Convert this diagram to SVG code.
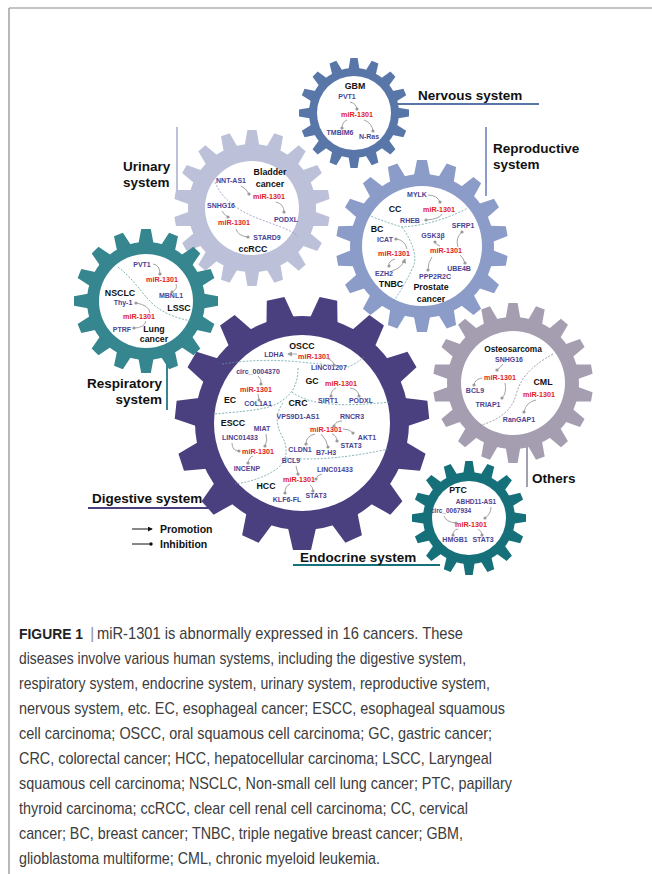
<svg xmlns="http://www.w3.org/2000/svg" width="652" height="874" viewBox="0 0 652 874">
<style>
text{font-family:"Liberation Sans",Arial,sans-serif}
.g{font-size:7px;font-weight:bold;fill:#4a4393;text-anchor:middle}
.m{font-size:7.2px;font-weight:bold;fill:#e02228;text-anchor:middle}
.l{font-size:8.8px;font-weight:bold;fill:#111;text-anchor:middle}
.s{font-size:13.5px;font-weight:bold;fill:#111}
.c{fill:none;stroke:#9a9a9a;stroke-width:0.9;marker-end:url(#dot)}
.ca{fill:none;stroke:#9a9a9a;stroke-width:0.9;marker-end:url(#arr)}
.d{fill:none;stroke:#5f9ea0;stroke-width:0.8;stroke-dasharray:2 1.5}
.cap{font-size:17px;fill:#3c3c3c}
</style>
<defs>
<marker id="dot" viewBox="0 0 4 4" refX="2" refY="2" markerWidth="4" markerHeight="4" markerUnits="userSpaceOnUse"><circle cx="2" cy="2" r="1.6" fill="#9a9a9a"/></marker>
<marker id="arr" viewBox="0 0 6 6" refX="5" refY="3" markerWidth="5" markerHeight="5" orient="auto" markerUnits="userSpaceOnUse"><path d="M0,0 L6,3 L0,6 Z" fill="#9a9a9a"/></marker>
<marker id="arrK" viewBox="0 0 6 6" refX="5" refY="3" markerWidth="5" markerHeight="5" orient="auto" markerUnits="userSpaceOnUse"><path d="M0,0 L6,3 L0,6 Z" fill="#111"/></marker>
<marker id="dotK" viewBox="0 0 4 4" refX="2" refY="2" markerWidth="4" markerHeight="4" markerUnits="userSpaceOnUse"><circle cx="2" cy="2" r="1.7" fill="#111"/></marker>
<path id="tG" d="M-5.6,-43 L-3.6,-55 L3.6,-55 L5.6,-43Z"/>
<path id="tU" d="M-7.4,-62 L-4.6,-78 L4.6,-78 L7.4,-62Z"/>
<path id="tR" d="M-8.2,-70 L-5,-86 L5,-86 L8.2,-70Z"/>
<path id="tO" d="M-7.4,-64 L-4.6,-80 L4.6,-80 L7.4,-64Z"/>
<path id="tL" d="M-7.6,-57 L-4.8,-72 L4.8,-72 L7.6,-57Z"/>
<path id="tD" d="M-14,-105 L-9,-127 L9,-127 L14,-105Z"/>
<path id="tP" d="M-5.8,-44 L-3.7,-57 L3.7,-57 L5.8,-44Z"/>
</defs>

<rect width="652" height="874" fill="#fff"/>
<g id="frame" fill="none">
<line x1="9" y1="8" x2="652" y2="8" stroke="#b0b0b0" stroke-width="1.6"/>
<line x1="9" y1="8" x2="9" y2="874" stroke="#8a8a8a" stroke-width="1.2"/>
</g>

<g id="system-lines" stroke-width="2" fill="none">
<line x1="395" y1="104" x2="539" y2="104" stroke="#5877a8"/>
<line x1="177" y1="127" x2="177" y2="197" stroke="#bcc1d9"/>
<line x1="486" y1="127" x2="486" y2="196" stroke="#8c9cc9"/>
<line x1="167" y1="350" x2="167" y2="410" stroke="#35868f"/>
<line x1="88" y1="508" x2="215" y2="508" stroke="#4a3f7f"/>
<line x1="293" y1="565" x2="440" y2="565" stroke="#16707a"/>
<line x1="527" y1="445" x2="527" y2="487" stroke="#a59db0"/>
</g>

<g id="gear-urinary">
<g transform="translate(252,208)" fill="#bcc1d9">
<circle r="64"/>
<use href="#tU"/><use href="#tU" transform="rotate(20)"/><use href="#tU" transform="rotate(40)"/><use href="#tU" transform="rotate(60)"/><use href="#tU" transform="rotate(80)"/><use href="#tU" transform="rotate(100)"/><use href="#tU" transform="rotate(120)"/><use href="#tU" transform="rotate(140)"/><use href="#tU" transform="rotate(160)"/><use href="#tU" transform="rotate(180)"/><use href="#tU" transform="rotate(200)"/><use href="#tU" transform="rotate(220)"/><use href="#tU" transform="rotate(240)"/><use href="#tU" transform="rotate(260)"/><use href="#tU" transform="rotate(280)"/><use href="#tU" transform="rotate(300)"/><use href="#tU" transform="rotate(320)"/><use href="#tU" transform="rotate(340)"/>
<circle r="47" fill="#fff"/>
</g>
<path class="d" style="stroke:#8f95c5" d="M215,182 C222,200 240,212 262,220 S290,230 298,236"/>
<text class="l" x="270" y="175">Bladder</text>
<text class="l" x="270" y="187">cancer</text>
<text class="g" x="231" y="183">NNT-AS1</text>
<text class="m" x="269" y="199">miR-1301</text>
<text class="g" x="221" y="208">SNHG16</text>
<text class="g" x="286" y="222">PODXL</text>
<text class="m" x="234" y="225">miR-1301</text>
<text class="g" x="267" y="240">STARD9</text>
<text class="l" x="253" y="252">ccRCC</text>
</g>

<g id="gear-gbm">
<g transform="translate(354,113)" fill="#5877a8">
<circle r="45"/>
<use href="#tG"/><use href="#tG" transform="rotate(22.5)"/><use href="#tG" transform="rotate(45)"/><use href="#tG" transform="rotate(67.5)"/><use href="#tG" transform="rotate(90)"/><use href="#tG" transform="rotate(112.5)"/><use href="#tG" transform="rotate(135)"/><use href="#tG" transform="rotate(157.5)"/><use href="#tG" transform="rotate(180)"/><use href="#tG" transform="rotate(202.5)"/><use href="#tG" transform="rotate(225)"/><use href="#tG" transform="rotate(247.5)"/><use href="#tG" transform="rotate(270)"/><use href="#tG" transform="rotate(292.5)"/><use href="#tG" transform="rotate(315)"/><use href="#tG" transform="rotate(337.5)"/>
<circle r="37" fill="#fff"/>
</g>
<text class="l" x="355" y="89">GBM</text>
<text class="g" x="347" y="99">PVT1</text>
<text class="m" x="357" y="117">miR-1301</text>
<text class="g" x="340" y="135">TMBIM6</text>
<text class="g" x="369" y="139">N-Ras</text>
</g>

<g id="gear-reproductive">
<g transform="translate(422,246)" fill="#8c9cc9">
<circle r="72"/>
<use href="#tR"/><use href="#tR" transform="rotate(20)"/><use href="#tR" transform="rotate(40)"/><use href="#tR" transform="rotate(60)"/><use href="#tR" transform="rotate(80)"/><use href="#tR" transform="rotate(100)"/><use href="#tR" transform="rotate(120)"/><use href="#tR" transform="rotate(140)"/><use href="#tR" transform="rotate(160)"/><use href="#tR" transform="rotate(180)"/><use href="#tR" transform="rotate(200)"/><use href="#tR" transform="rotate(220)"/><use href="#tR" transform="rotate(240)"/><use href="#tR" transform="rotate(260)"/><use href="#tR" transform="rotate(280)"/><use href="#tR" transform="rotate(300)"/><use href="#tR" transform="rotate(320)"/><use href="#tR" transform="rotate(340)"/>
<circle r="60" fill="#fff"/>
</g>
<path class="d" d="M368,215 Q385,222 402,227 Q435,225 468,208"/>
<path class="d" d="M402,227 Q418,250 414,265 Q405,285 393,302"/>
<text class="g" x="417" y="197">MYLK</text>
<text class="l" x="395" y="212">CC</text>
<text class="m" x="439" y="212">miR-1301</text>
<text class="g" x="410" y="223">RHEB</text>
<text class="l" x="377" y="232">BC</text>
<text class="g" x="463" y="228">SFRP1</text>
<text class="g" x="385" y="242">ICAT</text>
<text class="g" x="433" y="238">GSK3β</text>
<text class="m" x="394" y="256">miR-1301</text>
<text class="m" x="446" y="253">miR-1301</text>
<text class="g" x="384" y="276">EZH2</text>
<text class="g" x="459" y="271">UBE4B</text>
<text class="g" x="435" y="279">PPP2R2C</text>
<text class="l" x="391" y="287">TNBC</text>
<text class="l" x="431" y="290">Prostate</text>
<text class="l" x="431" y="302">cancer</text>
</g>

<g id="gear-others">
<g transform="translate(513,383)" fill="#a59db0">
<circle r="66"/>
<use href="#tO"/><use href="#tO" transform="rotate(20)"/><use href="#tO" transform="rotate(40)"/><use href="#tO" transform="rotate(60)"/><use href="#tO" transform="rotate(80)"/><use href="#tO" transform="rotate(100)"/><use href="#tO" transform="rotate(120)"/><use href="#tO" transform="rotate(140)"/><use href="#tO" transform="rotate(160)"/><use href="#tO" transform="rotate(180)"/><use href="#tO" transform="rotate(200)"/><use href="#tO" transform="rotate(220)"/><use href="#tO" transform="rotate(240)"/><use href="#tO" transform="rotate(260)"/><use href="#tO" transform="rotate(280)"/><use href="#tO" transform="rotate(300)"/><use href="#tO" transform="rotate(320)"/><use href="#tO" transform="rotate(340)"/>
<circle r="52" fill="#fff"/>
</g>
<path class="d" style="stroke:#8a8aa0" d="M553,354 C528,368 520,380 516,395 S500,420 478,426"/>
<text class="l" x="513" y="352" style="font-size:8.3px">Osteosarcoma</text>
<text class="g" x="509" y="362">SNHG16</text>
<text class="m" x="500" y="380">miR-1301</text>
<text class="l" x="543" y="385">CML</text>
<text class="g" x="475" y="393">BCL9</text>
<text class="m" x="539" y="397">miR-1301</text>
<text class="g" x="488" y="407">TRIAP1</text>
<text class="g" x="519" y="422">RanGAP1</text>
</g>

<g id="gear-respiratory">
<g transform="translate(146,301)" fill="#35868f">
<circle r="59"/>
<use href="#tL"/><use href="#tL" transform="rotate(22.5)"/><use href="#tL" transform="rotate(45)"/><use href="#tL" transform="rotate(67.5)"/><use href="#tL" transform="rotate(90)"/><use href="#tL" transform="rotate(112.5)"/><use href="#tL" transform="rotate(135)"/><use href="#tL" transform="rotate(157.5)"/><use href="#tL" transform="rotate(180)"/><use href="#tL" transform="rotate(202.5)"/><use href="#tL" transform="rotate(225)"/><use href="#tL" transform="rotate(247.5)"/><use href="#tL" transform="rotate(270)"/><use href="#tL" transform="rotate(292.5)"/><use href="#tL" transform="rotate(315)"/><use href="#tL" transform="rotate(337.5)"/>
<circle r="47" fill="#fff"/>
</g>
<path class="d" d="M118,267 C132,278 140,290 147,298 S165,316 191,321"/>
<text class="g" x="142" y="267">PVT1</text>
<text class="m" x="162" y="282">miR-1301</text>
<text class="l" x="120" y="296">NSCLC</text>
<text class="g" x="171" y="298">MBNL1</text>
<text class="g" x="123" y="305">Thy-1</text>
<text class="l" x="179" y="311">LSSC</text>
<text class="m" x="139" y="319">miR-1301</text>
<text class="g" x="122" y="332">PTRF</text>
<text class="l" x="154" y="332">Lung</text>
<text class="l" x="154" y="342">cancer</text>
</g>

<g id="gear-digestive">
<g transform="translate(302,423)" fill="#4a3f7f">
<circle r="107"/>
<use href="#tD" transform="rotate(12)"/><use href="#tD" transform="rotate(36)"/><use href="#tD" transform="rotate(60)"/><use href="#tD" transform="rotate(84)"/><use href="#tD" transform="rotate(108)"/><use href="#tD" transform="rotate(132)"/><use href="#tD" transform="rotate(156)"/><use href="#tD" transform="rotate(180)"/><use href="#tD" transform="rotate(204)"/><use href="#tD" transform="rotate(228)"/><use href="#tD" transform="rotate(252)"/><use href="#tD" transform="rotate(276)"/><use href="#tD" transform="rotate(300)"/><use href="#tD" transform="rotate(324)"/><use href="#tD" transform="rotate(348)"/>
<circle r="88" fill="#fff"/>
</g>
<path class="d" d="M222,364 Q260,358 300,362 T348,367 Q356,364 364,357"/>
<path class="d" d="M298,368 C298,382 294,392 283,400 S262,410 214,414"/>
<path class="d" d="M292,392 Q305,402 330,404 T390,402"/>
<path class="d" d="M283,403 Q272,418 282,436 Q292,455 278,468 Q262,480 235,484"/>
<path class="d" d="M286,458 Q330,462 388,449"/>
<text class="l" x="302" y="349">OSCC</text>
<text class="g" x="274" y="357">LDHA</text>
<text class="m" x="314" y="359">miR-1301</text>
<text class="g" x="329" y="370">LINC01207</text>
<text class="g" x="258" y="374">circ_0004370</text>
<text class="l" x="312" y="384">GC</text>
<text class="m" x="341" y="386">miR-1301</text>
<text class="m" x="256" y="392">miR-1301</text>
<text class="l" x="230" y="403">EC</text>
<text class="g" x="258" y="406">COL1A1</text>
<text class="l" x="298" y="406">CRC</text>
<text class="g" x="328" y="403">SIRT1</text>
<text class="g" x="361" y="403">PODXL</text>
<text class="l" x="233" y="426">ESCC</text>
<text class="g" x="298" y="419">VPS9D1-AS1</text>
<text class="g" x="352" y="419">RNCR3</text>
<text class="g" x="262" y="431">MIAT</text>
<text class="m" x="326" y="432">miR-1301</text>
<text class="g" x="240" y="440">LINC01433</text>
<text class="g" x="367" y="440">AKT1</text>
<text class="g" x="351" y="448">STAT3</text>
<text class="m" x="258" y="454">miR-1301</text>
<text class="g" x="300" y="452">CLDN1</text>
<text class="g" x="326" y="455">B7-H3</text>
<text class="g" x="247" y="471">INCENP</text>
<text class="g" x="291" y="463">BCL9</text>
<text class="g" x="335" y="472">LINC01433</text>
<text class="m" x="299" y="482">miR-1301</text>
<text class="l" x="266" y="489">HCC</text>
<text class="g" x="287" y="502">KLF6-FL</text>
<text class="g" x="316" y="498">STAT3</text>
</g>

<g id="gear-endocrine">
<g transform="translate(469,518)" fill="#16707a">
<circle r="46"/>
<use href="#tP"/><use href="#tP" transform="rotate(22.5)"/><use href="#tP" transform="rotate(45)"/><use href="#tP" transform="rotate(67.5)"/><use href="#tP" transform="rotate(90)"/><use href="#tP" transform="rotate(112.5)"/><use href="#tP" transform="rotate(135)"/><use href="#tP" transform="rotate(157.5)"/><use href="#tP" transform="rotate(180)"/><use href="#tP" transform="rotate(202.5)"/><use href="#tP" transform="rotate(225)"/><use href="#tP" transform="rotate(247.5)"/><use href="#tP" transform="rotate(270)"/><use href="#tP" transform="rotate(292.5)"/><use href="#tP" transform="rotate(315)"/><use href="#tP" transform="rotate(337.5)"/>
<circle r="37" fill="#fff"/>
</g>
<text class="l" x="458" y="493">PTC</text>
<text class="g" x="476" y="504" style="font-size:6.5px">ABHD11-AS1</text>
<text class="g" x="451" y="513" style="font-size:6.5px">circ_0067934</text>
<text class="m" x="471" y="527">miR-1301</text>
<text class="g" x="455" y="542">HMGB1</text>
<text class="g" x="483" y="542">STAT3</text>
</g>

<g id="connectors">
<path class="c" d="M350,102 Q356,103 357,109"/>
<path class="c" d="M347,120 Q342,122 342,128"/>
<path class="c" d="M364,120 Q372,123 373,131"/>
<path class="c" d="M241,186 Q246,188 249,194"/>
<path class="c" d="M276,202 Q284,204 284,212"/>
<path class="c" d="M222,211 Q224,215 228,217"/>
<path class="c" d="M236,229 Q238,236 248,237"/>
<path class="c" d="M428,195 Q437,195 440,202"/>
<path class="c" d="M442,214 Q440,219 426,220"/>
<path class="c" d="M407,249 Q405,240 396,239"/>
<path class="c" d="M395,259 Q388,261 389,266"/>
<path class="ca" d="M392,271 Q402,268 405,259"/>
<path class="c" d="M440,246 Q436,245 435,242"/>
<path class="c" d="M458,247 Q455,238 462,232"/>
<path class="c" d="M460,255 Q463,257 465,263"/>
<path class="c" d="M432,257 Q428,262 428,270"/>
<path class="c" d="M153,264 Q160,265 160,274"/>
<path class="c" d="M176,284 Q178,289 172,292"/>
<path class="c" d="M150,313 Q149,305 136,303"/>
<path class="c" d="M146,321 Q144,328 134,328"/>
<path class="ca" d="M297,354 L288,354"/>
<path class="c" d="M326,358 Q333,360 334,365"/>
<path class="c" d="M258,376 Q262,379 261,384"/>
<path class="c" d="M258,394 L259,400"/>
<path class="c" d="M336,388 Q331,390 331,396"/>
<path class="c" d="M350,388 Q358,389 359,396"/>
<path class="c" d="M342,421 Q336,421 334,426"/>
<path class="c" d="M343,429 Q350,429 353,433"/>
<path class="c" d="M332,434 Q337,436 337,441"/>
<path class="c" d="M321,434 Q327,440 328,447"/>
<path class="c" d="M315,434 Q306,436 306,444"/>
<path class="c" d="M266,434 Q268,440 265,446"/>
<path class="c" d="M232,443 Q232,451 239,451"/>
<path class="c" d="M253,456 Q249,457 248,463"/>
<path class="c" d="M296,466 L298,474"/>
<path class="c" d="M322,474 Q317,475 316,479"/>
<path class="c" d="M290,484 Q285,486 285,493"/>
<path class="c" d="M310,485 Q313,487 313,491"/>
<path class="c" d="M503,364 Q500,368 497,370"/>
<path class="c" d="M482,378 Q475,379 474,385"/>
<path class="c" d="M505,383 Q507,393 502,398"/>
<path class="c" d="M536,400 Q526,402 524,412"/>
<path class="c" d="M491,507 Q491,514 485,518"/>
<path class="c" d="M444,516 Q446,522 456,523"/>
<path class="c" d="M458,529 Q453,530 453,535"/>
<path class="c" d="M478,529 Q482,531 482,535"/>
</g>

<g id="labels">
<text class="s" x="418" y="100">Nervous system</text>
<text class="s" x="123" y="171">Urinary</text>
<text class="s" x="123" y="187">system</text>
<text class="s" x="493" y="153">Reproductive</text>
<text class="s" x="493" y="169">system</text>
<text class="s" x="162" y="388" text-anchor="end">Respiratory</text>
<text class="s" x="162" y="404" text-anchor="end">system</text>
<text class="s" x="92" y="503">Digestive system</text>
<text class="s" x="300" y="562">Endocrine system</text>
<text class="s" x="532" y="483">Others</text>
</g>

<g id="legend">
<line x1="132" y1="529" x2="152" y2="529" stroke="#111" stroke-width="1" marker-end="url(#arrK)"/>
<line x1="132" y1="544" x2="151" y2="544" stroke="#111" stroke-width="1" marker-end="url(#dotK)"/>
<text x="160" y="533" style="font-size:10.5px;font-weight:bold;fill:#111">Promotion</text>
<text x="160" y="548" style="font-size:10.5px;font-weight:bold;fill:#111">Inhibition</text>
</g>

<g id="caption">
<text x="19" y="639" textLength="64" lengthAdjust="spacingAndGlyphs" style="font-size:15.5px;font-weight:bold;fill:#222">FIGURE 1</text>
<text class="cap" x="90" y="639" fill="#999" style="fill:#999">|</text>
<text class="cap" x="97" y="639" textLength="366" lengthAdjust="spacingAndGlyphs">miR-1301 is abnormally expressed in 16 cancers. These</text>
<text class="cap" x="19" y="664" textLength="447" lengthAdjust="spacingAndGlyphs">diseases involve various human systems, including the digestive system,</text>
<text class="cap" x="19" y="689" textLength="471" lengthAdjust="spacingAndGlyphs">respiratory system, endocrine system, urinary system, reproductive system,</text>
<text class="cap" x="19" y="714" textLength="486" lengthAdjust="spacingAndGlyphs">nervous system, etc. EC, esophageal cancer; ESCC, esophageal squamous</text>
<text class="cap" x="19" y="739" textLength="473" lengthAdjust="spacingAndGlyphs">cell carcinoma; OSCC, oral squamous cell carcinoma; GC, gastric cancer;</text>
<text class="cap" x="19" y="764" textLength="473" lengthAdjust="spacingAndGlyphs">CRC, colorectal cancer; HCC, hepatocellular carcinoma; LSCC, Laryngeal</text>
<text class="cap" x="19" y="789" textLength="493" lengthAdjust="spacingAndGlyphs">squamous cell carcinoma; NSCLC, Non-small cell lung cancer; PTC, papillary</text>
<text class="cap" x="19" y="814" textLength="449" lengthAdjust="spacingAndGlyphs">thyroid carcinoma; ccRCC, clear cell renal cell carcinoma; CC, cervical</text>
<text class="cap" x="19" y="839" textLength="444" lengthAdjust="spacingAndGlyphs">cancer; BC, breast cancer; TNBC, triple negative breast cancer; GBM,</text>
<text class="cap" x="19" y="864" textLength="361" lengthAdjust="spacingAndGlyphs">glioblastoma multiforme; CML, chronic myeloid leukemia.</text>
</g>
</svg>
